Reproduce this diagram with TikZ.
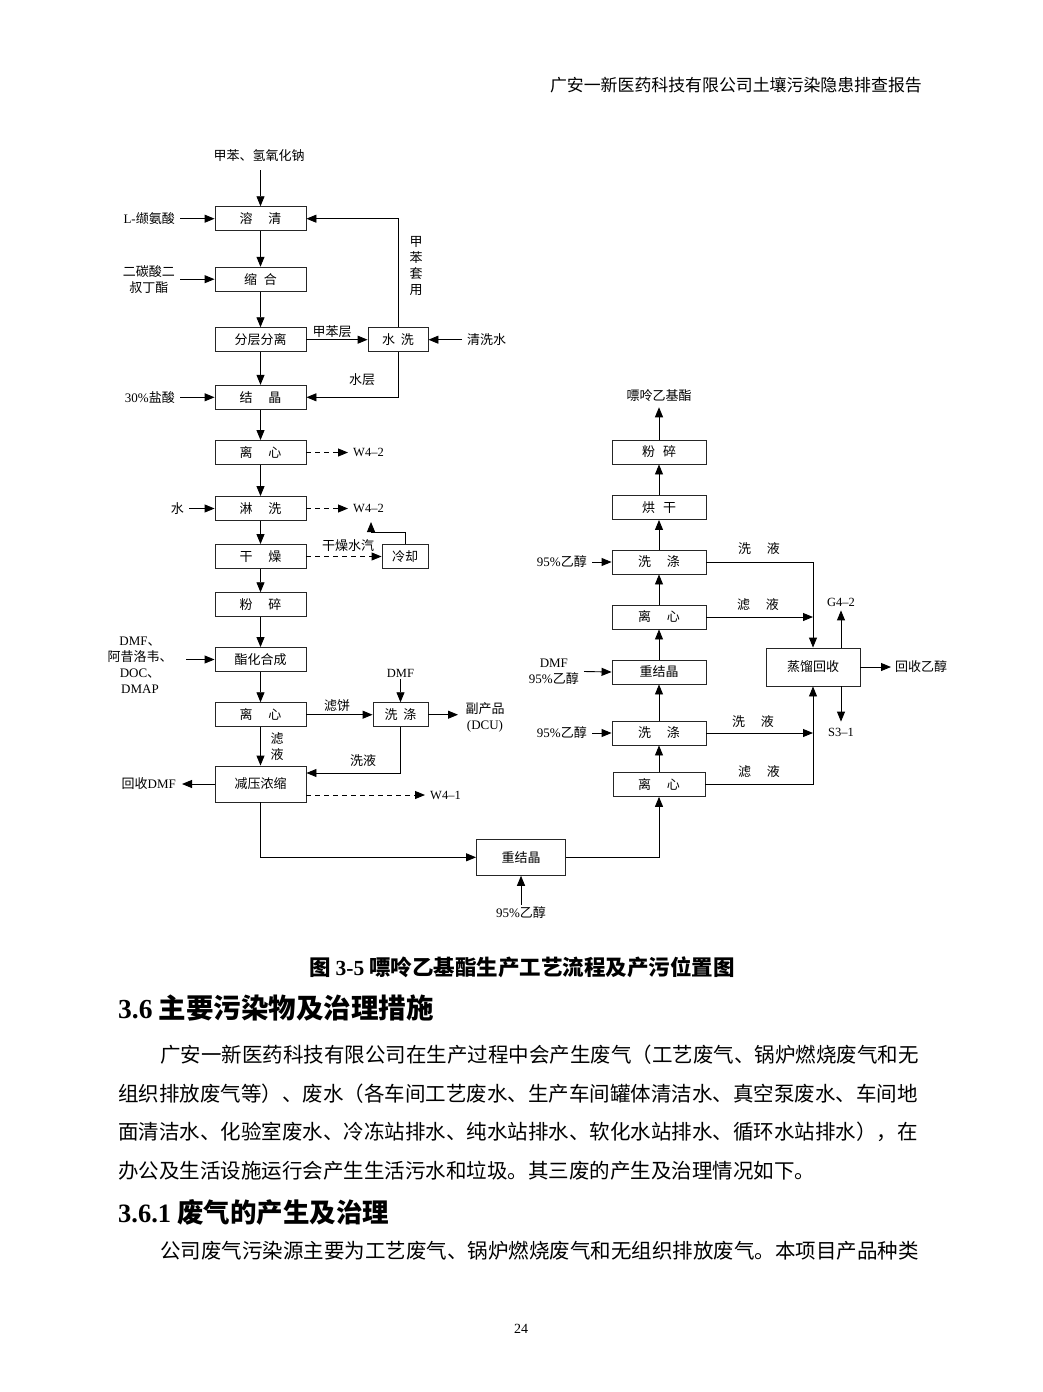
\documentclass[tikz,border=0pt]{standalone}
\usepackage{fontspec}
\setmainfont{Noto Sans CJK SC}
\newfontfamily\lat{Liberation Serif}
\usetikzlibrary{arrows.meta}
\tikzset{
  box/.style={draw=black!85, line width=0.9pt, minimum width=91pt, minimum height=24pt, inner sep=0pt, font=\fontsize{13}{16}\selectfont},
  lbl/.style={font=\fontsize{13}{16}\selectfont, inner sep=2pt, align=center},
  src/.style={lbl, anchor=east, inner xsep=5pt},
  arr/.style={-{Triangle[length=10pt,width=8pt]}, line width=0.9pt},
  darr/.style={arr, dash pattern=on 5pt off 4pt},
  para/.style={anchor=base west, inner sep=0pt, font=\fontsize{20.5}{21}\selectfont},
}
\begin{document}
\begin{tikzpicture}[x=1pt,y=-1pt]
\useasboundingbox (0,0) rectangle (1043,1392);
\fill[white] (0,0) rectangle (1043,1392);

% header
\node[anchor=east, inner sep=0pt, font=\fontsize{16.9}{17}\selectfont] (hdr) at (922,85) {广安一新医药科技有限公司土壤污染隐患排查报告};

% ---------- left column boxes ----------
\node[box] (a1) at (260.5,218.7) {溶\hspace{16pt}清};
\node[box] (a2) at (260.5,279.2) {缩\hspace{7pt}合};
\node[box] (a3) at (260.5,339.7) {分层分离};
\node[box] (a4) at (260.5,397.3) {结\hspace{16pt}晶};
\node[box] (a5) at (260.5,452.5) {离\hspace{16pt}心};
\node[box] (a6) at (260.5,508.5) {淋\hspace{16pt}洗};
\node[box] (a7) at (260.5,556.5) {干\hspace{16pt}燥};
\node[box] (a8) at (260.5,604.7) {粉\hspace{16pt}碎};
\node[box] (a9) at (260.5,659.5) {酯化合成};
\node[box] (a10) at (260.5,714.7) {离\hspace{16pt}心};
\node[box, minimum height=36pt] (a11) at (260.5,784) {减压浓缩};
\node[box, minimum width=60pt] (sx) at (398,339.7) {水\hspace{6pt}洗};
\node[box, minimum width=46pt] (lq) at (405,556.5) {冷却};
\node[box, minimum width=55pt] (xd) at (400.5,714.7) {洗\hspace{6pt}涤};
\node[box, minimum width=89pt, minimum height=36pt] (cj) at (521,857.3) {重结晶};

% ---------- right column boxes ----------
\node[box, minimum width=94pt] (b1) at (659,452) {粉\hspace{8pt}碎};
\node[box, minimum width=94pt] (b2) at (659,507.5) {烘\hspace{8pt}干};
\node[box, minimum width=94pt] (b3) at (659,562) {洗\hspace{16pt}涤};
\node[box, minimum width=94pt] (b4) at (659,617) {离\hspace{16pt}心};
\node[box, minimum width=94pt] (b5) at (659,672) {重结晶};
\node[box, minimum width=94pt] (b6) at (659,733) {洗\hspace{16pt}涤};
\node[box, minimum width=92pt] (b7) at (659,784.4) {离\hspace{16pt}心};
\node[box, minimum width=94pt, minimum height=38pt] (zl) at (813,667) {蒸馏回收};

% ---------- left column flow ----------
\node[lbl] (tA) at (259,156) {甲苯、氢氧化钠};
\draw[arr] ([yshift=-6pt]tA.south -| a1.north) -- (a1.north);
\node[src] (tL) at (180,218.7) {{\lat L-}缬氨酸};
\draw[arr] (tL.east) -- (a1.west);
\node[src] (tB) at (180,279.2) {二碳酸二\\叔丁酯};
\draw[arr] (tB.east) -- (a2.west);
\draw[arr] (a1.south) -- (a2.north);
\draw[arr] (a2.south) -- (a3.north);
\draw[arr] (a3.south) -- (a4.north);
\draw[arr] (a4.south) -- (a5.north);
\draw[arr] (a5.south) -- (a6.north);
\draw[arr] (a6.south) -- (a7.north);
\draw[arr] (a7.south) -- (a8.north);
\draw[arr] (a8.south) -- (a9.north);
\draw[arr] (a9.south) -- (a10.north);

\draw[arr] (a3.east) -- (sx.west);
\node[lbl, anchor=south] at (332,339.5) {甲苯层};
\node[lbl, anchor=west, inner xsep=5pt] (qs) at (462,339.7) {清洗水};
\draw[arr] (qs.west) -- (sx.east);
\draw[arr] (sx.north) |- (a1.east);
\node[lbl] at (416,266) {甲\\苯\\套\\用};
\draw[arr] (sx.south) |- (a4.east);
\node[lbl] at (362,380) {水层};
\node[src] (tC) at (180,397.3) {{\lat 30\%}盐酸};
\draw[arr] (tC.east) -- (a4.west);

\node[lbl, anchor=west, inner xsep=5pt, font=\lat\fontsize{12.5}{14}\selectfont] (w1) at (348,452.5) {W4–2};
\draw[darr] (a5.east) -- (w1.west);
\node[lbl, anchor=west, inner xsep=5pt, font=\lat\fontsize{12.5}{14}\selectfont] (w2) at (348,508.5) {W4–2};
\draw[darr] (a6.east) -- (w2.west);
\node[src] (tD) at (189,508.5) {水};
\draw[arr] (tD.east) -- (a6.west);

\draw[darr] (a7.east) -- (lq.west);
\node[lbl] at (348,546) {干燥水汽};
\coordinate (lqend) at (371,522);
\draw[arr] (lq.north) -- ++(0,-12) -| (lqend);

\node[lbl] (tE) at (140,665.5) {{\lat DMF}、\\阿昔洛韦、\\{\lat DOC}、\\{\lat DMAP}};
\coordinate (tEe) at (186,659.5);
\draw[arr] (tEe) -- (a9.west);

\draw[arr] (a10.east) -- (xd.west);
\node[lbl, anchor=south] at (337,714) {滤饼};
\node[lbl, font=\lat\fontsize{12.5}{14}\selectfont] (tF) at (400.5,673) {DMF};
\draw[arr] (tF.south) -- (xd.north);
\coordinate (fpin) at (458,714.7);
\draw[arr] (xd.east) -- (fpin);
\node[lbl] at (485,717) {副产品\\{\lat (DCU)}};

\draw[arr] (a10.south) -- (a11.north);
\node[lbl] at (277,747) {滤\\液};
\draw[arr] (xd.south) |- ([yshift=11pt]a11.east);
\node[lbl] at (363,761) {洗液};
\node[lbl, anchor=east, inner xsep=6pt] (hs) at (182,784) {回收{\lat DMF}};
\draw[arr] (a11.west) -- (hs.east);
\node[lbl, anchor=west, inner xsep=5pt, font=\lat\fontsize{12.5}{14}\selectfont] (w41) at (425,795) {W4–1};
\draw[darr] ([yshift=-11pt]a11.east) -- (w41.west);

\draw[arr] (a11.south) |- (cj.west);
\node[lbl] (tG) at (521,913) {{\lat 95\%}乙醇};
\draw[arr] (tG.north -| cj.south) -- (cj.south);
\draw[arr] (cj.east) -| (b7.south);

% ---------- right column flow ----------
\draw[arr] (b7.north) -- (b6.south);
\draw[arr] (b6.north) -- (b5.south);
\draw[arr] (b5.north) -- (b4.south);
\draw[arr] (b4.north) -- (b3.south);
\draw[arr] (b3.north) -- (b2.south);
\draw[arr] (b2.north) -- (b1.south);
\node[lbl] (prod) at (659,396) {嘌呤乙基酯};
\draw[arr] (b1.north) -- ([yshift=-3pt]prod.south);

\node[src] (r1) at (592,562) {{\lat 95\%}乙醇};
\draw[arr] (r1.east) -- (b3.west);
\node[src] (r2) at (584,671.5) {{\lat DMF}\\{\lat 95\%}乙醇};
\draw[arr] (r2.east) -- (b5.west);
\node[src] (r3) at (592,733) {{\lat 95\%}乙醇};
\draw[arr] (r3.east) -- (b6.west);

\draw[arr] (b3.east) -| (zl.north);
\node[lbl] at (759,549) {洗\hspace{16pt}液};
\draw[arr] (b4.east) -- (b4.east -| zl.north);
\node[lbl] at (758,605) {滤\hspace{16pt}液};
\draw[arr] (b6.east) -- (b6.east -| zl.south);
\node[lbl] at (753,722) {洗\hspace{16pt}液};
\draw[arr] (b7.east) -| (zl.south);
\node[lbl] at (759,772) {滤\hspace{16pt}液};

\node[lbl, font=\lat\fontsize{12.5}{14}\selectfont] (g42) at (841,602) {G4–2};
\draw[arr] ([xshift=28pt]zl.north) -- ([yshift=-2pt]g42.south);
\node[lbl, font=\lat\fontsize{12.5}{14}\selectfont] (s31) at (841,732) {S3–1};
\draw[arr] ([xshift=28pt]zl.south) -- ([yshift=4pt]s31.north);
\node[lbl, anchor=west, inner xsep=4pt] (hy) at (891,667) {回收乙醇};
\draw[arr] (zl.east) -- (hy.west);

% ---------- text body ----------
\node[font=\fontsize{21.5}{22}\selectfont\bfseries, inner sep=0pt] (cap) at (522,967) {图 {\lat\bfseries 3-5} 嘌呤乙基酯生产工艺流程及产污位置图};
\node[anchor=base west, inner sep=0pt, font=\fontsize{27.5}{28}\selectfont\bfseries] (h1) at (118,1018) {{\lat\bfseries 3.6} 主要污染物及治理措施};
\node[para] (p1) at (160,1062) {广安一新医药科技有限公司在生产过程中会产生废气（工艺废气、锅炉燃烧废气和无};
\node[para] (p2) at (118,1101) {组织排放废气等）、废水（各车间工艺废水、生产车间罐体清洁水、真空泵废水、车间地};
\node[para] (p3) at (118,1139) {面清洁水、化验室废水、冷冻站排水、纯水站排水、软化水站排水、循环水站排水），在};
\node[para] (p4) at (118,1178) {办公及生活设施运行会产生生活污水和垃圾。其三废的产生及治理情况如下。};
\node[anchor=base west, inner sep=0pt, font=\fontsize{26.5}{27}\selectfont\bfseries] (h2) at (118,1222) {{\lat\bfseries 3.6.1} 废气的产生及治理};
\node[para] (p5) at (160,1258) {公司废气污染源主要为工艺废气、锅炉燃烧废气和无组织排放废气。本项目产品种类};
\node[font=\lat\fontsize{14}{15}\selectfont, inner sep=0pt] (pg) at (521,1329) {24};
\end{tikzpicture}
\end{document}
